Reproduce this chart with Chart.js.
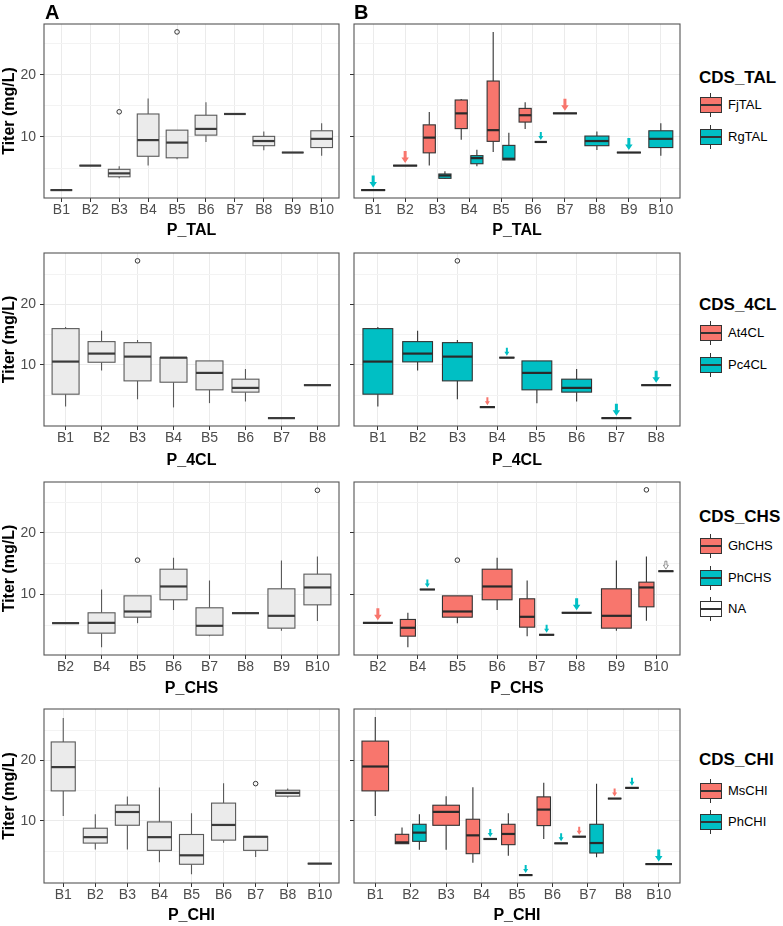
<!DOCTYPE html>
<html><head><meta charset="utf-8">
<script src="https://cdn.jsdelivr.net/npm/chart.js@4.4.1/dist/chart.umd.min.js"></script>
<style>
html,body{margin:0;padding:0;background:#fff;}
body{width:783px;height:926px;position:relative;overflow:hidden;font-family:"Liberation Sans",Arial,Helvetica,sans-serif;}
canvas{position:absolute;}
.txt{position:absolute;white-space:nowrap;color:#000;}
.tag{font-weight:bold;font-size:20px;line-height:20px;}
.ltitle{font-weight:bold;font-size:17px;line-height:20px;}
.llab{font-size:13px;line-height:15px;}
.key{position:absolute;width:22px;height:24px;}
.key .wh{position:absolute;left:10px;width:1px;top:0;height:24px;background:#333;}
.key .bx{position:absolute;left:0;top:4px;width:20px;height:14px;border:1px solid #333;}
.key .md{position:absolute;left:0;top:11px;width:22px;height:2px;background:#333;}
</style></head>
<body>
<script>
// ---------------- DATA ----------------
// each stat: [lower whisker, Q1, median, Q3, upper whisker]; a single number = one observation
// Row 1 : P_TAL
const talCats = ['B1','B2','B3','B4','B5','B6','B7','B8','B9','B10'];
const talAll = [1.46, 5.4, [3.35,3.6,4.15,4.8,5.3], [5.4,6.9,9.5,13.7,16.2], [6.4,6.65,9.1,11.1,11.1], [9.2,10.3,11.3,13.5,15.6], 13.7, [7.85,8.6,9.35,10.1,10.9], 7.5, [7.0,8.3,9.7,11.0,12.2]];
const talAllOut = [[],[],[14.05],[],[26.9],[],[],[],[],[]];
const talNames = ['FjTAL','RgTAL'];
const talFj = [null, 5.4, [5.4,7.45,9.9,11.95,14.0], [9.55,11.35,13.8,15.95,16.1], [7.6,9.3,11.1,19.0,26.9], [11.3,12.4,13.5,14.6,15.6], 13.8, null, null, null];
const talRg = [1.46, null, [3.25,3.35,3.8,4.05,4.5], [5.3,5.7,6.6,7.0,7.95], [6.3,6.3,6.5,8.65,10.7], 9.2, null, [7.9,8.6,9.35,10.15,10.9], 7.5, [7.0,8.3,9.7,11.0,12.2]];

// Row 2 : P_4CL
const clCats = ['B1','B2','B3','B4','B5','B6','B7','B8'];
const clAll = [[3.13,5.16,10.55,16.0,16.26],[9.07,10.44,11.87,13.85,15.66],[4.34,7.36,11.37,13.68,14.1],[2.97,7.14,11.2,11.2,11.2],[3.68,5.88,8.68,10.66,10.66],[3.96,5.5,6.2,7.64,9.34],1.2,6.65];
const clAllOut = [[],[],[27.2],[],[],[],[],[]];
const clNames = ['At4CL','Pc4CL'];
const clAt = [null,null,null,3.02,null,null,null,null];
const clPc = [[3.13,5.16,10.55,16.0,16.26],[9.07,10.5,11.87,13.85,15.66],[4.34,7.36,11.37,13.68,14.1],11.2,[3.68,5.88,8.68,10.66,10.66],[3.96,5.5,6.2,7.64,9.34],1.2,6.65];
const clPcOut = [[],[],[27.2],[],[],[],[],[]];

// Row 3 : P_CHS
const chsCats = ['B2','B4','B5','B6','B7','B8','B9','B10'];
const chsAll = [5.35,[1.46,3.73,5.4,7.03,10.8],[5.35,6.32,7.24,9.78,9.78],[7.5,9.14,11.3,14.1,15.95],[3.24,3.4,4.92,7.84,12.27],6.97,[4.1,4.54,6.54,10.92,15.5],[5.68,8.32,11.14,13.3,16.16]];
const chsAllOut = [[],[],[15.57],[],[],[],[],[26.9]];
const chsNames = ['GhCHS','PhCHS','NA'];
const chsGh = [5.4,[1.46,3.24,4.6,5.95,7.03],[5.35,6.32,7.24,9.78,9.78],[7.5,9.14,11.3,14.1,15.95],[3.24,4.7,6.38,9.3,12.27],null,[4.1,4.54,6.54,10.92,15.5],[5.73,8.0,11.14,12.0,16.16]];
const chsGhOut = [[],[],[15.57],[],[],[],[],[26.97]];
const chsPh = [null,10.81,null,null,3.46,7.03,null,null];
const chsNA = [null,null,null,null,null,null,null,13.78];

// Row 4 : P_CHI
const chiCats = ['B1','B2','B3','B4','B5','B6','B7','B8','B10'];
const chiAll = [[10.82,14.97,18.9,23.06,27.0],[5.3,6.34,7.32,8.8,11.1],[5.3,9.29,11.48,12.62,14.04],[3.17,5.14,7.32,9.84,15.52],[1.2,2.84,4.32,7.76,11.26],[6.39,6.83,9.34,12.95,16.23],[4.04,5.14,7.38,7.43,7.43],[13.88,14.1,14.64,15.08,15.36],2.95];
const chiAllOut = [[],[],[],[],[],[],[16.17],[],[]];
const chiNames = ['MsCHI','PhCHI'];
const chiMs = [[10.8,14.97,19.0,23.2,27.2],[6.24,6.24,6.46,7.79,8.9],[5.25,9.28,11.5,12.6,14.1],[3.09,4.59,7.62,10.28,15.58],[4.25,6.08,7.85,9.45,11.27],[7.02,9.23,11.88,13.98,16.3],7.4,13.7,null];
const chiPh = [null,[5.25,6.63,8.07,9.45,11.1],null,7.02,1.05,6.3,[3.98,4.7,6.35,9.45,16.13],15.47,2.87];

const yTickValues = [5,10,15,20,25];
const xTitles = ['P_TAL','P_4CL','P_CHS','P_CHI'];
const legendTitles = ['CDS_TAL','CDS_4CL','CDS_CHS','CDS_CHI'];

// ---------------- STYLE ----------------
const RED = '#F8766D', TEAL = '#00BFC4';
Chart.defaults.font.family = '"Liberation Sans", Arial, Helvetica, sans-serif';

function norm(s){ return typeof s === 'number' ? [s,s,s,s,s] : s; }

function slots(groups, i){
  const present = [];
  groups.forEach((g,gi)=>{ if (g.stats[i] != null) present.push(gi); });
  const k = present.length, res = {};
  present.forEach((gi,j)=>{
    res[gi] = k===1 ? {off:0, w:0.75, k} : {off:(j-(k-1)/2)*0.49, w:0.38, k};
  });
  return res;
}

function drawArrow(ctx, cx, yLine, big, fill, stroke){
  const gap = big?2.5:2, len = big?12:8, hl = big?5.5:4, hw = big?7.5:5, sw = big?3:2;
  const tip = yLine - gap, top = tip - len, hb = tip - hl;
  ctx.beginPath();
  ctx.moveTo(cx-sw/2, top); ctx.lineTo(cx+sw/2, top); ctx.lineTo(cx+sw/2, hb);
  ctx.lineTo(cx+hw/2, hb); ctx.lineTo(cx, tip); ctx.lineTo(cx-hw/2, hb);
  ctx.lineTo(cx-sw/2, hb); ctx.closePath();
  ctx.fillStyle = fill; ctx.fill();
  if (stroke){ ctx.strokeStyle = stroke; ctx.lineWidth = 0.8; ctx.stroke(); }
}

const boxPlugin = {
  id:'boxes',
  beforeDatasetsDraw(chart, args, opts){
    const {ctx} = chart; const x = chart.scales.x, y = chart.scales.y;
    const groups = opts.groups;
    ctx.save();
    for (let i=0;i<opts.n;i++){
      const sl = slots(groups,i);
      groups.forEach((g,gi)=>{
        if (!sl[gi]) return;
        const s = norm(g.stats[i]); const {off,w,k} = sl[gi];
        const cx = x.getPixelForValue(i+off);
        const xl = x.getPixelForValue(i+off-w/2), xr = x.getPixelForValue(i+off+w/2);
        const p = s.map(v=>y.getPixelForValue(v));
        ctx.strokeStyle = g.line; ctx.lineWidth = 1.1;
        ctx.beginPath(); ctx.moveTo(cx,p[0]); ctx.lineTo(cx,p[1]); ctx.moveTo(cx,p[3]); ctx.lineTo(cx,p[4]); ctx.stroke();
        ctx.fillStyle = g.fill;
        ctx.fillRect(xl,p[3],xr-xl,p[1]-p[3]);
        ctx.strokeRect(xl,p[3],xr-xl,p[1]-p[3]);
        ctx.lineWidth = 2.2; ctx.strokeStyle = g.median;
        ctx.beginPath(); ctx.moveTo(xl,p[2]); ctx.lineTo(xr,p[2]); ctx.stroke();
        if (opts.arrows && s[1]===s[3]) drawArrow(ctx, cx, p[2], k===1, g.arrow, g.arrowLine);
      });
    }
    ctx.restore();
  },
  afterDraw(chart){
    const {ctx, chartArea:a} = chart;
    ctx.save(); ctx.strokeStyle = '#555'; ctx.lineWidth = 1.1;
    ctx.strokeRect(a.left, a.top, a.right-a.left, a.bottom-a.top);
    ctx.restore();
  }
};

// ---------------- LAYOUT ----------------
const rowTop = [18, 247, 476, 703];
const rowH = [222, 223, 222, 222];
const xAxisH = [42, 44, 43, 42];
const legendTitleTop = [67.5, 294.7, 506.7, 749.5];
const legendKeyCenters = [[105,136.7],[333.3,365],[546,577.7,609.3],[790.7,822]];

function yRange(groupLists){
  let lo = Infinity, hi = -Infinity;
  groupLists.forEach(g=>{
    g.stats.forEach(s=>{ if (s==null) return; norm(s).forEach(v=>{lo=Math.min(lo,v);hi=Math.max(hi,v);}); });
    (g.out||[]).forEach(o=>{ (o||[]).forEach(v=>{lo=Math.min(lo,v);hi=Math.max(hi,v);}); });
  });
  const e = (hi-lo)*0.05; return [lo-e, hi+e];
}

function makePanel(cfg){
  const cv = document.createElement('canvas');
  cv.width = cfg.width; cv.height = cfg.height;
  cv.style.left = cfg.left+'px'; cv.style.top = cfg.top+'px';
  cv.style.width = cfg.width+'px'; cv.style.height = cfg.height+'px';
  document.body.appendChild(cv);
  const n = cfg.cats.length;
  const pts = [];
  for (let i=0;i<n;i++){
    const sl = slots(cfg.groups,i);
    cfg.groups.forEach((g,gi)=>{
      if (!sl[gi] || !g.out || !g.out[i]) return;
      g.out[i].forEach(v=>pts.push({x:i+sl[gi].off, y:v}));
    });
  }
  new Chart(cv, {
    type:'scatter',
    data:{datasets:[{data:pts, pointStyle:'circle', pointRadius:2.3, borderColor:'#333', backgroundColor:'rgba(255,255,255,0)', borderWidth:1}]},
    options:{
      responsive:false, animation:false, devicePixelRatio:1,
      layout:{padding:{top:6,left:0,right:cfg.padRight,bottom:0}},
      plugins:{legend:{display:false}, tooltip:{enabled:false}, boxes:{groups:cfg.groups, n, arrows:cfg.arrows}},
      scales:{
        x:{type:'linear', min:-0.6, max:n-0.4,
          afterBuildTicks:s=>{ s.ticks = cfg.cats.map((c,i)=>({value:i})); },
          afterFit:s=>{ s.height = cfg.xh; s.paddingLeft = 0; s.paddingRight = 0; s.paddingTop = 0; s.paddingBottom = 0; },
          ticks:{callback:v=>cfg.cats[v], font:{size:14}, color:'#4D4D4D', padding:0, autoSkip:false, maxRotation:0},
          grid:{color:'#EBEBEB', tickColor:'#333', tickLength:4, lineWidth:1},
          border:{display:false},
          title:{display:true, text:cfg.xTitle, font:{size:16, weight:'bold'}, color:'#000', padding:0}
        },
        y:{type:'linear', min:cfg.ymin, max:cfg.ymax,
          afterBuildTicks:s=>{ s.ticks = yTickValues.map(v=>({value:v})); },
          afterFit:s=>{ s.width = cfg.yw; s.paddingTop = 0; s.paddingBottom = 0; s.paddingLeft = 0; s.paddingRight = 0; },
          ticks:{display:cfg.yLabels, callback:v=>(v%10===0?String(v):''), font:{size:14}, color:'#4D4D4D', padding:4, autoSkip:false},
          grid:{color:c=>(c.tick && c.tick.value%10===0)?'#EBEBEB':'#F3F3F3',
                tickColor:c=>(c.tick && c.tick.value%10===0)?'#333':'rgba(0,0,0,0)', tickLength:4, lineWidth:1},
          border:{display:false},
          title:{display:cfg.yTitle, text:'Titer (mg/L)', font:{size:16, weight:'bold'}, color:'#000', padding:0}
        }
      }
    },
    plugins:[boxPlugin]
  });
}

function addText(cls, text, left, top){
  const d = document.createElement('div'); d.className = 'txt '+cls; d.textContent = text;
  d.style.left = left+'px'; d.style.top = top+'px'; document.body.appendChild(d); return d;
}

function addLegend(row, names, fills){
  addText('ltitle', legendTitles[row], 699, legendTitleTop[row]);
  names.forEach((nm,k)=>{
    const c = legendKeyCenters[row][k];
    const key = document.createElement('div'); key.className='key';
    key.style.left='700px'; key.style.top=(c-12)+'px';
    key.innerHTML = '<div class="wh"></div><div class="bx" style="background:'+fills[k]+'"></div><div class="md"></div>';
    document.body.appendChild(key);
    addText('llab', nm, 728, c-8);
  });
}

const greyStyle = {fill:'#EBEBEB', line:'#5A5A5A', median:'#3A3A3A'};
function colGroup(stats, out, fill){
  return {stats, out, fill, line:'#333', median:'#2A2A2A', arrow: fill==='#FFFFFF'?'#FFFFFF':fill, arrowLine: fill==='#FFFFFF'?'#777':null};
}

const rows = [
  {cats:talCats, left:[Object.assign({stats:talAll, out:talAllOut}, greyStyle)],
   right:[colGroup(talFj,null,RED), colGroup(talRg,null,TEAL)], names:talNames, fills:[RED,TEAL]},
  {cats:clCats, left:[Object.assign({stats:clAll, out:clAllOut}, greyStyle)],
   right:[colGroup(clAt,null,RED), colGroup(clPc,clPcOut,TEAL)], names:clNames, fills:[RED,TEAL]},
  {cats:chsCats, left:[Object.assign({stats:chsAll, out:chsAllOut}, greyStyle)],
   right:[colGroup(chsGh,chsGhOut,RED), colGroup(chsPh,null,TEAL), colGroup(chsNA,null,'#FFFFFF')], names:chsNames, fills:[RED,TEAL,'#FFFFFF']},
  {cats:chiCats, left:[Object.assign({stats:chiAll, out:chiAllOut}, greyStyle)],
   right:[colGroup(chiMs,null,RED), colGroup(chiPh,null,TEAL)], names:chiNames, fills:[RED,TEAL]}
];

rows.forEach((r,ri)=>{
  const [ymin,ymax] = yRange(r.left.concat(r.right));
  const common = {top:rowTop[ri], height:rowH[ri], xh:xAxisH[ri], cats:r.cats, xTitle:xTitles[ri], ymin, ymax};
  makePanel(Object.assign({}, common, {left:0, width:345, yw:44, padRight:6, groups:r.left, yLabels:true, yTitle:true, arrows:false}));
  makePanel(Object.assign({}, common, {left:345, width:340, yw:9, padRight:5, groups:r.right, yLabels:false, yTitle:false, arrows:true}));
  addLegend(ri, r.names, r.fills);
});

addText('tag','A',45,2);
addText('tag','B',354,2);
</script>
</body></html>
